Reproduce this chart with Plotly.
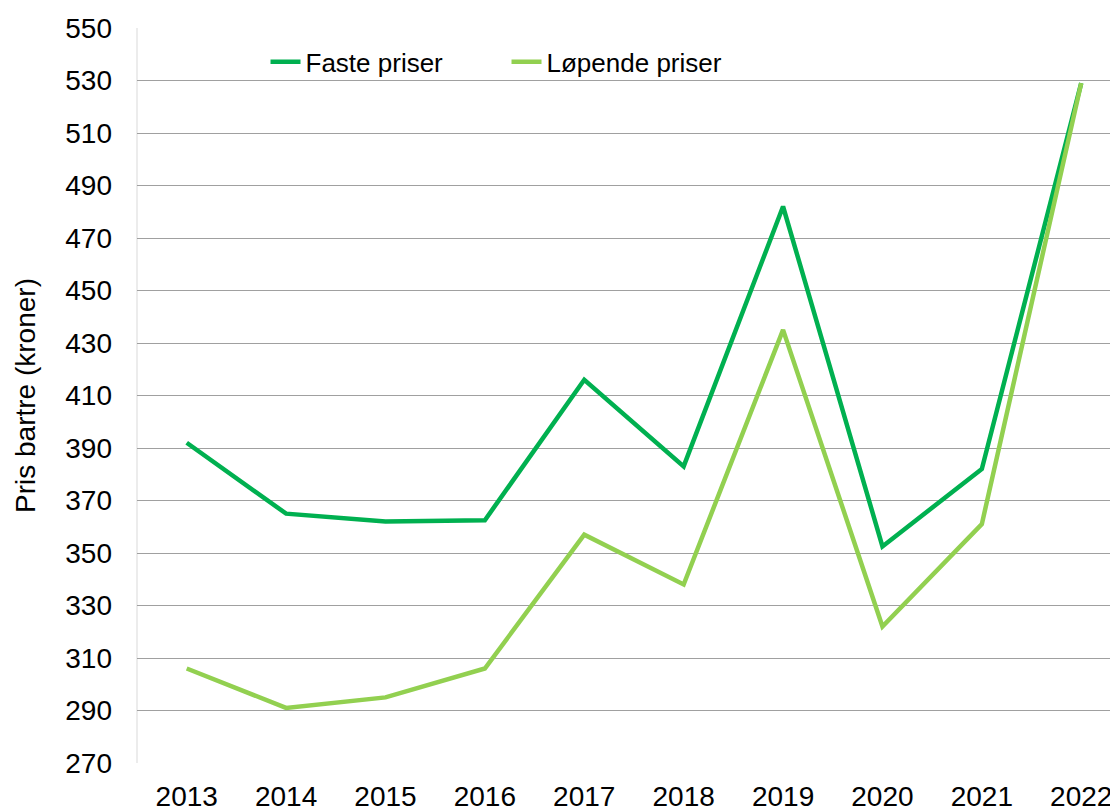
import plotly.graph_objects as go

# Pris bartre, faste og løpende priser (kroner)
years = ["2013", "2014", "2015", "2016", "2017", "2018", "2019", "2020", "2021", "2022"]
faste_priser = [392, 365, 362, 362.5, 416, 383, 482, 352.5, 382, 529]
lopende_priser = [306, 291, 295, 306, 357, 338, 435, 322, 361, 529]

y_ticks = list(range(270, 551, 20))

FONT = "Liberation Sans, Arial, sans-serif"

fig = go.Figure()
fig.add_trace(go.Scatter(
    x=years, y=faste_priser, name="Faste priser", mode="lines",
    line=dict(color="#00B050", width=4.5),
))
fig.add_trace(go.Scatter(
    x=years, y=lopende_priser, name="Løpende priser", mode="lines",
    line=dict(color="#92D050", width=4.5),
))

# page body has an 8px margin, so the figure is a bit smaller than the window
fig.update_layout(
    width=1110, height=802,
    margin=dict(l=129, r=0, t=20, b=47, autoexpand=False),
    paper_bgcolor="white", plot_bgcolor="white",
    font=dict(family=FONT, size=28, color="black"),
    showlegend=True,
    legend=dict(
        orientation="h", x=0.131, y=0.954, xref="paper", yref="paper",
        xanchor="left", yanchor="middle",
        entrywidth=196, entrywidthmode="pixels",
        font=dict(size=26), bgcolor="rgba(0,0,0,0)",
    ),
)

fig.update_xaxes(
    type="category", range=[-0.5, 9.37], automargin=False,
    showgrid=False, showline=False, zeroline=False,
    ticks="", ticklabelstandoff=14,
    tickfont=dict(size=28),
)
fig.update_yaxes(
    range=[270, 550], tickvals=y_ticks, automargin=False,
    showgrid=True, gridcolor="#A0A0A0", gridwidth=1.3,
    showline=False, zeroline=False,
    ticks="", ticklabelstandoff=24,
    tickfont=dict(size=28),
    title=dict(text="Pris bartre (kroner)", font=dict(size=28), standoff=21),
)
# light left axis line
fig.add_shape(type="line", xref="paper", yref="paper", x0=0, x1=0, y0=0, y1=1,
              line=dict(color="#D9D9D9", width=1), layer="below")

fig.write_html("out.html")
